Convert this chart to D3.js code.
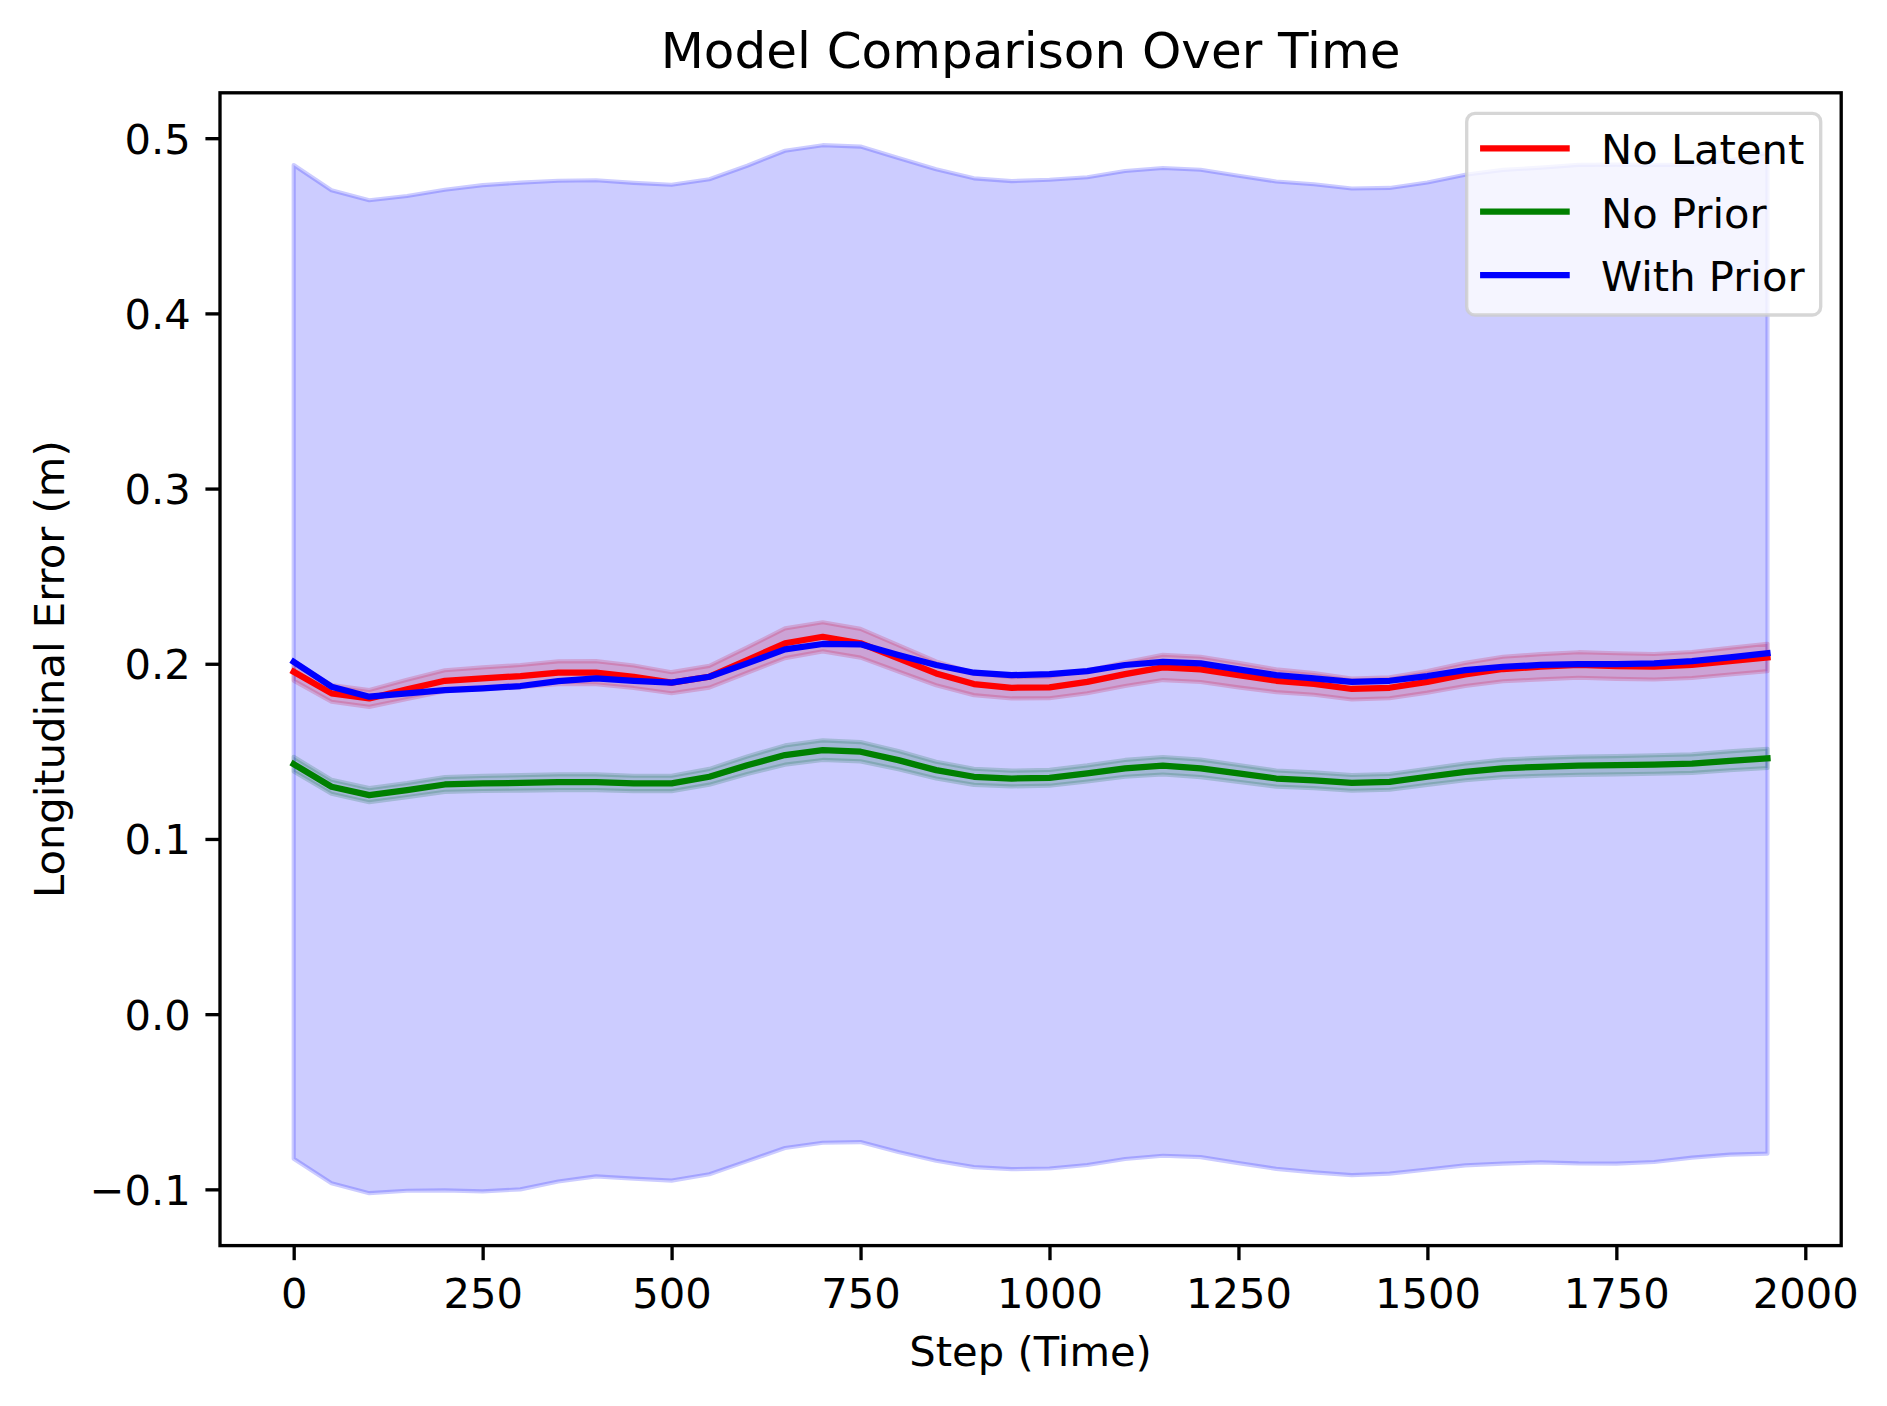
<!DOCTYPE html>
<html>
<head>
<meta charset="utf-8">
<script src="https://cdn.jsdelivr.net/npm/d3@7"></script>
<style>
  body { margin: 0; background: #fff; }
  text { font-family: "DejaVu Sans", sans-serif; }
</style>
</head>
<body>
<div id="chart"></div>
<script>
const steps = [0, 50, 100, 150, 200, 250, 300, 350, 400, 450, 500, 550, 600, 650, 700, 750, 800, 850, 900, 950,
  1000, 1050, 1100, 1150, 1200, 1250, 1300, 1350, 1400, 1450, 1500, 1550, 1600, 1650, 1700, 1750, 1800, 1850, 1900, 1950];

const noLatent = [0.1954, 0.1831, 0.1802, 0.1854, 0.1903, 0.1917, 0.1930, 0.1949, 0.1949, 0.1926,
  0.1892, 0.1926, 0.2021, 0.2117, 0.2154, 0.2117, 0.2031, 0.1945, 0.1884, 0.1863,
  0.1865, 0.1897, 0.1941, 0.1979, 0.1968, 0.1935, 0.1903, 0.1885, 0.1856, 0.1863,
  0.1897, 0.1939, 0.1970, 0.1983, 0.1993, 0.1987, 0.1983, 0.1993, 0.2015, 0.2036];
const noLatentStd = [0.0050, 0.0048, 0.0048, 0.0055, 0.0060, 0.0062, 0.0063, 0.0065, 0.0066, 0.0064,
  0.0060, 0.0062, 0.0072, 0.0085, 0.0083, 0.0082, 0.0075, 0.0068, 0.0063, 0.0061,
  0.0062, 0.0065, 0.0068, 0.0072, 0.0072, 0.0070, 0.0065, 0.0062, 0.0060, 0.0060,
  0.0062, 0.0066, 0.0070, 0.0072, 0.0073, 0.0073, 0.0073, 0.0074, 0.0076, 0.0078];

const noPrior = [0.1427, 0.1298, 0.1250, 0.1279, 0.1311, 0.1317, 0.1320, 0.1324, 0.1324, 0.1317,
  0.1317, 0.1355, 0.1421, 0.1479, 0.1507, 0.1498, 0.1450, 0.1393, 0.1355, 0.1345,
  0.1349, 0.1374, 0.1403, 0.1418, 0.1403, 0.1374, 0.1345, 0.1335, 0.1320, 0.1326,
  0.1355, 0.1383, 0.1403, 0.1412, 0.1418, 0.1421, 0.1425, 0.1430, 0.1446, 0.1460];
const noPriorStd = [0.0042, 0.0040, 0.0040, 0.0040, 0.0042, 0.0043, 0.0044, 0.0045, 0.0045, 0.0044,
  0.0044, 0.0045, 0.0050, 0.0055, 0.0056, 0.0055, 0.0052, 0.0048, 0.0046, 0.0045,
  0.0045, 0.0046, 0.0048, 0.0050, 0.0050, 0.0048, 0.0046, 0.0045, 0.0045, 0.0045,
  0.0046, 0.0048, 0.0050, 0.0051, 0.0052, 0.0052, 0.0053, 0.0053, 0.0054, 0.0055];

const withPrior = [0.2011, 0.1869, 0.1812, 0.1831, 0.1850, 0.1860, 0.1873, 0.1901, 0.1917, 0.1903,
  0.1892, 0.1926, 0.2002, 0.2082, 0.2113, 0.2111, 0.2050, 0.1993, 0.1949, 0.1935,
  0.1941, 0.1958, 0.1993, 0.2011, 0.2002, 0.1968, 0.1935, 0.1917, 0.1897, 0.1903,
  0.1930, 0.1964, 0.1983, 0.1993, 0.1998, 0.1998, 0.2002, 0.2015, 0.2036, 0.2060];
const withPriorStd = [0.2836, 0.2834, 0.2834, 0.2839, 0.2856, 0.2872, 0.2873, 0.2856, 0.2843, 0.2842,
  0.2842, 0.2840, 0.2841, 0.2846, 0.2847, 0.2841, 0.2837, 0.2830, 0.2822, 0.2820,
  0.2822, 0.2819, 0.2820, 0.2819, 0.2818, 0.2818, 0.2818, 0.2820, 0.2816, 0.2813,
  0.2817, 0.2827, 0.2836, 0.2839, 0.2850, 0.2851, 0.2846, 0.2834, 0.2838, 0.2856];

const seriesNames = ["No Latent", "No Prior", "With Prior"];
const seriesColors = ["#ff0000", "#008000", "#0000ff"];
const xTicks = [0, 250, 500, 750, 1000, 1250, 1500, 1750, 2000];
const yTicks = [-0.1, 0.0, 0.1, 0.2, 0.3, 0.4, 0.5];

const series = [
  { name: seriesNames[0], color: seriesColors[0], mean: noLatent, std: noLatentStd },
  { name: seriesNames[1], color: seriesColors[1], mean: noPrior, std: noPriorStd },
  { name: seriesNames[2], color: seriesColors[2], mean: withPrior, std: withPriorStd }
];

const width = 1887;
const height = 1406;
const pt = 300 / 72;
const fs = 10 * pt;
const margin = { left: 220, right: width - 1841.2, top: 92.8, bottom: height - 1245.6 };
const innerW = width - margin.left - margin.right;
const innerH = height - margin.top - margin.bottom;

// matplotlib style 5% auto margins
const xExt = d3.extent(steps);
const xPad = (xExt[1] - xExt[0]) * 0.05;
let yLo = Infinity, yHi = -Infinity;
series.forEach(s => s.mean.forEach((m, i) => {
  yLo = Math.min(yLo, m - s.std[i]);
  yHi = Math.max(yHi, m + s.std[i]);
}));
const yPad = (yHi - yLo) * 0.05;

const x = d3.scaleLinear().domain([xExt[0] - xPad, xExt[1] + xPad]).range([0, innerW]);
const y = d3.scaleLinear().domain([yLo - yPad, yHi + yPad]).range([innerH, 0]);

const svg = d3.select("#chart").append("svg")
  .attr("width", width)
  .attr("height", height);

svg.append("rect").attr("width", width).attr("height", height).attr("fill", "#fff");

const g = svg.append("g").attr("transform", `translate(${margin.left},${margin.top})`);

g.append("clipPath").attr("id", "clip")
  .append("rect").attr("width", innerW).attr("height", innerH);

const plot = g.append("g").attr("clip-path", "url(#clip)");

const area = d3.area()
  .x((d, i) => x(steps[i]))
  .y0(d => y(d.lo))
  .y1(d => y(d.hi));

// bands first (collections sit under lines)
series.forEach(s => {
  const band = s.mean.map((m, i) => ({ lo: m - s.std[i], hi: m + s.std[i] }));
  plot.append("path")
    .datum(band)
    .attr("d", area)
    .attr("fill", s.color)
    .attr("fill-opacity", 0.2)
    .attr("stroke", s.color)
    .attr("stroke-opacity", 0.2)
    .attr("stroke-width", pt)
    .attr("stroke-linejoin", "round");
});

const line = d3.line()
  .x((d, i) => x(steps[i]))
  .y(d => y(d));

series.forEach(s => {
  plot.append("path")
    .datum(s.mean)
    .attr("d", line)
    .attr("fill", "none")
    .attr("stroke", s.color)
    .attr("stroke-width", 1.5 * pt)
    .attr("stroke-linejoin", "round")
    .attr("stroke-linecap", "square");
});

// axes
const xAxis = g.append("g")
  .attr("transform", `translate(0,${innerH})`)
  .call(d3.axisBottom(x).tickValues(xTicks).tickFormat(d3.format("d"))
    .tickSize(3.5 * pt).tickSizeOuter(0).tickPadding(3.5 * pt));
const yAxis = g.append("g")
  .call(d3.axisLeft(y).tickValues(yTicks).tickFormat(d3.format(".1f"))
    .tickSize(3.5 * pt).tickSizeOuter(0).tickPadding(3.5 * pt));

[xAxis, yAxis].forEach(a => {
  a.select(".domain").remove();
  a.selectAll(".tick line").attr("stroke", "#000").attr("stroke-width", 0.8 * pt);
  a.selectAll(".tick text")
    .attr("fill", "#000")
    .style("font-family", "'DejaVu Sans', sans-serif")
    .style("font-size", fs + "px");
});
xAxis.selectAll(".tick text").attr("dy", null).attr("y", 1308 - 1245.6);
yAxis.selectAll(".tick text").attr("dy", "0.36em");

// spines
g.append("rect")
  .attr("width", innerW)
  .attr("height", innerH)
  .attr("fill", "none")
  .attr("stroke", "#000")
  .attr("stroke-width", 0.8 * pt);

// labels
svg.append("text")
  .attr("x", margin.left + innerW / 2)
  .attr("y", 68)
  .attr("text-anchor", "middle")
  .style("font-size", 12 * pt + "px")
  .text("Model Comparison Over Time");

svg.append("text")
  .attr("x", margin.left + innerW / 2)
  .attr("y", 1366)
  .attr("text-anchor", "middle")
  .style("font-size", fs + "px")
  .text("Step (Time)");

svg.append("text")
  .attr("transform", `translate(64,${margin.top + innerH / 2}) rotate(-90)`)
  .attr("text-anchor", "middle")
  .style("font-size", fs + "px")
  .text("Longitudinal Error (m)");

// legend
const legend = svg.append("g");
legend.append("rect")
  .attr("x", 1466.7)
  .attr("y", 113.3)
  .attr("width", 354)
  .attr("height", 201.7)
  .attr("rx", 0.2 * fs)
  .attr("fill", "#fff")
  .attr("fill-opacity", 0.8)
  .attr("stroke", "#cccccc")
  .attr("stroke-opacity", 0.8)
  .attr("stroke-width", 0.8 * pt);

series.forEach((s, i) => {
  const ly = 148.3 + i * 63.4;
  legend.append("line")
    .attr("x1", 1483.2).attr("x2", 1566.6)
    .attr("y1", ly).attr("y2", ly)
    .attr("stroke", s.color)
    .attr("stroke-width", 1.5 * pt)
    .attr("stroke-linecap", "square");
  legend.append("text")
    .attr("x", 1601)
    .attr("y", ly + 16)
    .style("font-size", fs + "px")
    .text(s.name);
});
</script>
</body>
</html>
